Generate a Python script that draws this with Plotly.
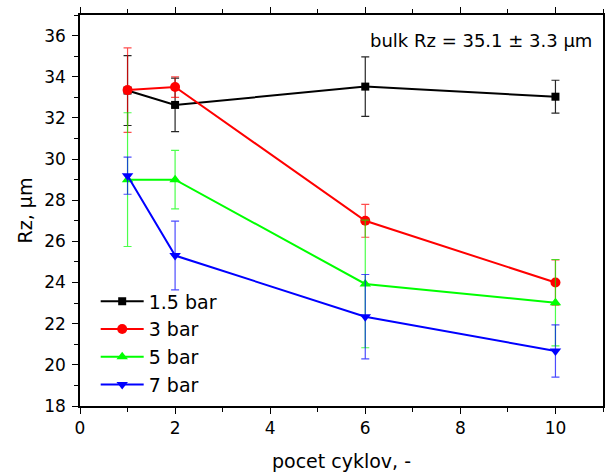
import plotly.graph_objects as go

cycles = [1, 2, 6, 10]
series_names = ["1.5 bar", "3 bar", "5 bar", "7 bar"]
rz_15 = [33.33, 32.63, 33.52, 33.03]
err_15 = [1.70, 1.30, 1.45, 0.80]
rz_3 = [33.35, 33.50, 27.00, 24.00]
err_3 = [2.05, 0.50, 0.80, 1.10]
rz_5 = [29.00, 29.00, 23.93, 23.02]
err_5 = [3.25, 1.42, 3.10, 2.10]
rz_7 = [29.19, 25.31, 22.34, 20.67]
err_7 = [0.90, 1.67, 2.05, 1.27]

colors = ["#000000", "#FF0000", "#00FF00", "#0000FF"]
err_colors = ["rgba(0,0,0,0.85)", "rgba(255,0,0,0.7)", "rgba(0,255,0,0.7)", "rgba(0,0,255,0.7)"]
symbols = ["square", "circle", "triangle-up", "triangle-down"]
sizes = [8, 10, 10, 10]
values = [rz_15, rz_3, rz_5, rz_7]
errors = [err_15, err_3, err_5, err_7]

FONT = "DejaVu Sans, Liberation Sans, Arial, sans-serif"

fig = go.Figure()
for i in range(4):
    fig.add_trace(go.Scatter(
        x=cycles, y=values[i], name=series_names[i], mode="lines+markers",
        line=dict(color=colors[i], width=2),
        marker=dict(symbol=symbols[i], size=sizes[i], color=colors[i], line=dict(width=0)),
        error_y=dict(type="data", array=errors[i], visible=True, color=err_colors[i],
                     thickness=1.2, width=4),
    ))

axis_common = dict(
    showline=True, linecolor="black", linewidth=1.5, mirror="ticks",
    ticks="outside", tickcolor="black", tickwidth=1.2, ticklen=6,
    showgrid=False, zeroline=False, automargin=False,
    tickfont=dict(family=FONT, size=17, color="black"),
)

fig.update_xaxes(
    range=[0, 11], dtick=2, tick0=0,
    minor=dict(ticks="outside", ticklen=4, dtick=1, tick0=0, tickcolor="black", showgrid=False),
    title=dict(text="pocet cyklov, -", font=dict(family=FONT, size=19, color="black"), standoff=18),
    **axis_common,
)
fig.update_yaxes(
    range=[18, 37], dtick=2, tick0=18, ticklabelstandoff=3,
    minor=dict(ticks="outside", ticklen=4, dtick=1, tick0=18, tickcolor="black", showgrid=False),
    title=dict(text="Rz, µm", font=dict(family=FONT, size=19, color="black"), standoff=7),
    **axis_common,
)

fig.add_annotation(
    text="bulk Rz = 35.1 ± 3.3 µm", xref="paper", yref="paper",
    x=0.982, y=0.936, xanchor="right", yanchor="middle", showarrow=False,
    font=dict(family=FONT, size=18, color="black"),
)

fig.update_layout(
    width=605, height=472,
    margin=dict(l=80, r=2, t=15, b=66),
    paper_bgcolor="white", plot_bgcolor="white",
    font=dict(family=FONT, color="black"),
    showlegend=True,
    legend=dict(
        x=0.03, y=0.316, xanchor="left", yanchor="top",
        bgcolor="rgba(0,0,0,0)", font=dict(family=FONT, size=19, color="black"),
        itemwidth=43,
    ),
)

fig.write_html("out.html")
